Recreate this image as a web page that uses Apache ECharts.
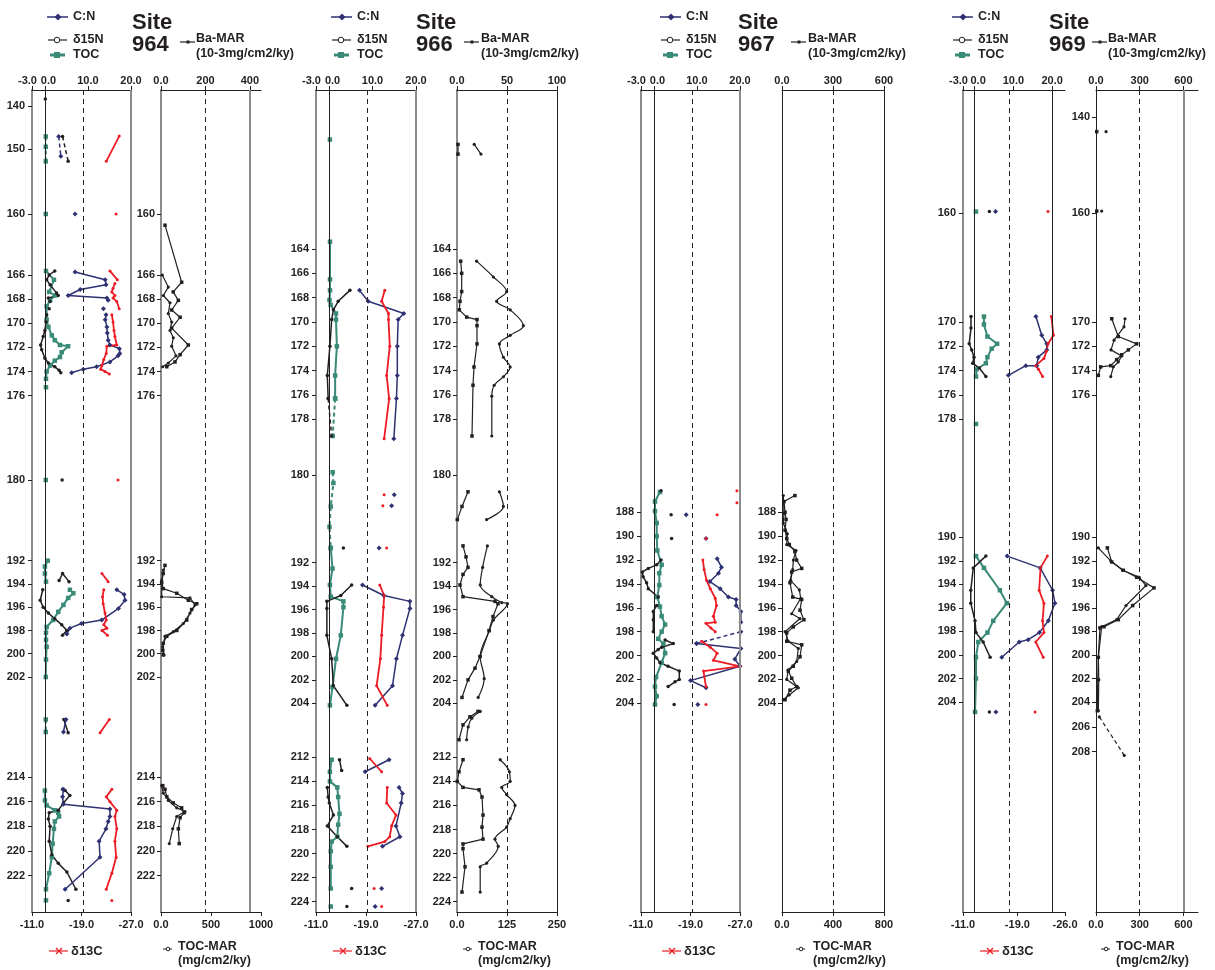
<!DOCTYPE html>
<html><head><meta charset="utf-8">
<script src="https://cdn.jsdelivr.net/npm/echarts@6.0.0/dist/echarts.min.js"></script>
<style>html,body{margin:0;padding:0;background:#fff}#c{width:1215px;height:970px}</style>
</head><body><div id="c"></div>
<script>
// ===== Age models (age ka -> depth units) =====
const ageTie964 = [140,150,160,166,176,180,192,202,214,222];
const depthTie964 = [1.6,5.9,12.4,18.5,30.57,39.0,47.07,58.7,68.7,78.57];
const ageTie966 = [164,178,180,192,204,212,224];
const depthTie966 = [15.9,32.93,38.5,47.27,61.33,66.73,81.17];
const ageTie967 = [188,204];
const depthTie967 = [42.23,61.33];
const ageTie969 = [140,160,170,178,190,204,208];
const depthTie969 = [2.73,12.3,23.2,32.9,44.73,61.2,66.17];

// ===== Age tick labels =====
const yTicks964L = [140,150,160,166,168,170,172,174,176,180,192,194,196,198,200,202,214,216,218,220,222];
const yTicks964R = [160,166,168,170,172,174,176,192,194,196,198,200,202,214,216,218,220,222];
const yTicks966 = [164,166,168,170,172,174,176,178,180,192,194,196,198,200,202,204,212,214,216,218,220,222,224];
const yTicks967 = [188,190,192,194,196,198,200,202,204];
const yTicks969L = [160,170,172,174,176,178,190,192,194,196,198,200,202,204];
const yTicks969R = [140,160,170,172,174,176,190,192,194,196,198,200,202,204,206,208];
const topLabelsL = [-3,0,10,20];
const botLabelsL = [-11,-19,-27];
const botLabelsL969 = [-11,-19,-26];
const topLabelsR964 = [0,200,400], botLabelsR964 = [0,500,1000];
const topLabelsR966 = [0,50,100],  botLabelsR966 = [0,125,250];
const topLabelsR967 = [0,300,600], botLabelsR967 = [0,400,800];
const topLabelsR969 = [0,300,600], botLabelsR969 = [0,300,600];

// ===== Site 964 data [value, age] (null = gap) =====
const toc964 = [[0.2,160.0],null,
 [0.25,165.6],[2.1,166.4],[1.0,167.4],[2.3,167.7],[1.2,168.1],[0.4,168.6],[0.4,169.7],[0.8,170.3],[1.6,171.0],[2.3,171.4],[3.5,171.8],[5.4,171.9],[3.9,172.4],[3.5,172.8],[2.3,173.1],[1.2,173.5],[0.4,174.0],[0.25,174.6],null,
 [0.25,175.3],null,[0.2,180.0],null,
 [0.65,192.0],[0.0,192.5],[0.0,193.1],[0.25,193.8],null,
 [5.8,194.5],[6.6,194.8],[5.4,195.2],[4.3,195.8],[3.1,196.4],[1.9,197.1],[0.4,197.7],[0.25,198.2],[0.25,198.8],[0.4,199.4],[0.25,200.5],[0.2,202.0],null,
 [0.0,215.1],[0.0,215.9],[0.4,216.3],[2.3,216.7],[3.1,216.9],[3.3,217.2],[2.3,217.6],[2.1,218.2],[1.8,219.4],[1.6,220.5],[1.0,221.8],[0.25,223.1],null,
 [0.25,224.0]];
const toc964Dash = [[0.2,147.1],[0.2,149.5],[0.2,151.9],null,[0.2,207.1],[0.2,208.6]];
const d15n964 = [[0.1,138.4],null,
 [2.3,165.6],[1.0,166.0],[0.4,166.4],[1.2,166.8],[2.7,167.5],[3.1,167.7],[0.8,167.9],[1.2,168.2],null,
 [1.0,168.8],null,
 [0.4,169.3],[0.25,169.9],[0.0,170.6],[-0.4,171.1],[-1.0,171.8],[-0.75,172.2],[0.0,172.9],[0.8,173.3],[2.3,173.6],[3.3,173.9],[3.7,174.1],null,
 [4.0,180.0],null,
 [3.3,193.7],[4.1,193.1],[5.6,193.8],null,
 [-0.5,194.5],[-1.1,195.4],[-0.4,196.0],[0.8,196.5],[2.3,197.0],[3.9,197.5],[5.1,198.0],[4.1,198.4],null,
 [4.4,207.1],[5.4,208.7],null,
 [4.1,215.0],[4.7,215.1],[5.8,215.5],[4.3,216.1],[3.1,216.7],[1.0,216.9],[0.8,217.4],[1.2,218.0],[1.0,219.2],[1.6,220.3],[3.1,221.0],[5.1,221.7],[7.2,223.1],null,
 [5.4,224.0]];
const d15n964Dash = [[4.1,147.1],[5.4,151.9]];
const cn964 = [[7.0,160.0],null,
 [7.0,165.7],[14.0,166.4],[14.2,166.8],[8.2,167.2],[5.4,167.7],[14.4,167.9],[14.7,168.1],null,
 [13.6,168.8],null,
 [14.2,169.3],[14.0,169.7],[14.4,170.3],[14.5,170.8],[14.7,171.4],[15.1,171.8],[17.3,172.1],[17.4,172.5],[17.0,172.7],[15.1,173.2],[12.0,173.6],[8.9,173.8],[6.2,174.1],null,
 [16.7,194.5],[18.4,194.9],[18.6,195.4],[17.1,196.1],[13.2,197.1],[8.5,197.4],[5.8,197.8],[5.1,198.3],null,
 [4.9,207.1],[4.3,208.6],null,
 [4.3,215.0],[4.1,215.6],[4.3,216.2],[15.1,216.6],[15.1,217.2],[14.7,217.6],[14.2,218.2],[12.6,219.2],[12.8,220.5],[4.7,223.1]];
const cn964Dash = [[3.2,147.1],[3.7,151.1]];
const d13c964 = [[-25.1,147.0],[-23.0,151.9],null,
 [-24.6,160.0],null,
 [-23.6,165.6],[-24.8,166.4],null,
 [-24.4,166.7],[-24.1,167.1],[-23.9,167.4],[-24.4,167.7],[-24.1,167.9],[-24.7,168.2],[-25.1,168.8],null,
 [-23.9,169.3],[-24.1,169.9],[-24.25,170.6],[-24.4,171.1],[-24.7,171.8],[-23.1,171.9],[-23.0,172.5],[-22.6,173.0],[-22.3,173.5],[-22.1,173.8],[-22.8,174.0],[-23.5,174.2],null,
 [-24.9,180.0],null,
 [-22.3,193.1],[-23.3,193.8],null,
 [-22.6,194.5],[-22.4,195.1],[-22.5,195.7],[-22.8,196.5],[-23.0,197.1],[-22.6,197.5],[-23.1,197.8],[-22.3,198.0],[-23.2,198.4],null,
 [-23.5,207.1],[-22.0,208.7],null,
 [-23.9,215.0],[-23.0,215.6],[-23.6,216.0],[-24.7,216.7],[-24.4,217.2],[-24.7,218.2],[-24.4,219.2],[-24.6,220.5],[-23.9,221.8],[-23.0,223.1],null,
 [-23.9,224.0]];
const ba964 = [[18,161.1],[93,166.6],[55,167.4],[78,168.1],[48,168.9],[86,169.5],[48,170.4],[123,171.8],[86,172.6],[63,173.2],[26,173.6],null,
 [18,192.4],[10,193.1],[3,193.9],[10,194.4],[71,194.8],[123,195.4],[161,195.7],[138,196.2],[116,197.1],[71,198.0],[26,198.5],[10,199.1],[8,199.7],[10,200.1],null,
 [8,214.7],[18,215.0],[26,215.6],[55,216.1],[93,216.5],[104,216.9],[86,217.3],[78,218.2],[82,219.4]];
const tocmar964 = [[13,166.0],[73,167.0],[23,167.7],[90,168.3],[73,169.2],[107,169.9],[90,170.6],[123,171.2],[107,171.9],[150,172.7],[73,173.3],[17,173.6],null,
 [23,192.8],[7,193.7],[7,195.1],[290,195.2],[340,195.8],[290,196.5],[223,197.4],[123,198.1],[40,198.5],[17,199.4],[30,200.1],null,
 [7,214.7],[23,215.3],[73,215.9],[157,216.5],[240,216.8],[157,217.2],[117,218.2],[83,219.4]];

// ===== Site 966 data =====
const toc966 = [[0.2,155.0],null,
 [0.22,163.4],[0.22,166.5],[0.22,167.4],[0.1,168.2],[0.38,168.6],[1.6,169.3],[1.6,169.8],[1.8,172.0],[1.4,174.4],[1.4,176.3],null,
 [0.4,190.0],[0.8,192.5],[0.2,193.9],[0.4,194.9],[3.3,195.3],[3.3,195.8],[2.7,198.2],[1.6,200.2],[0.8,202.6],[0.2,204.3],null,
 [0.6,212.2],[0.2,213.2],[0.2,214.0],[1.9,214.5],[2.1,215.3],[2.4,216.7],[2.1,217.6],[1.9,218.6],[0.6,219.0],[0.4,219.8],[0.4,221.1],[0.4,222.9],null,
 [0.4,224.4]];
const toc966Dash = [[1.4,176.3],[0.84,178.6],null,[0.84,179.9],[1.0,181.1],[0.4,184.3],[0.1,187.1],[0.4,190.0]];
const d15n966 = [[4.8,167.4],[2.1,168.3],[1.0,169.0],[0.6,169.8],[0.2,172.0],[-0.4,174.4],[-0.2,176.3],null,
 [3.3,190.0],null,
 [5.2,193.9],[2.7,194.8],[-0.5,195.3],[-0.5,195.9],[-0.5,198.2],[0.6,200.2],[1.0,202.5],[4.1,204.3],null,
 [2.4,212.2],[2.9,213.1],null,
 [-0.4,214.5],[-0.2,215.3],[0.06,215.8],[1.0,216.8],[-0.4,217.7],[1.9,218.6],[4.1,219.4],null,
 [5.2,222.9],null,[4.1,224.4]];
const d15n966Dash = [[-0.2,176.3],[0.6,178.6]];
const cn966 = [[7.0,167.4],[9.0,168.3],[17.2,169.3],[15.9,169.8],[15.7,172.0],[15.7,174.4],[15.5,176.3],[14.9,178.7],null,
 [15.0,182.7],null,[14.4,184.2],null,[11.5,190.0],null,
 [7.7,193.9],[12.6,194.8],[18.6,195.3],[18.6,195.9],[16.9,198.2],[15.5,200.2],[14.6,202.5],[10.6,204.3],null,
 [13.8,212.2],[8.3,213.2],null,
 [16.1,214.5],[16.9,215.0],[16.6,215.8],[15.4,217.7],[16.3,218.6],[12.3,219.4],null,
 [12.1,222.9],null,[10.6,224.4]];
const d13c966 = [[-22.0,167.4],[-21.5,168.3],[-22.6,169.3],[-22.6,169.8],[-22.8,172.0],[-22.3,174.4],[-22.7,176.3],[-21.9,178.7],null,
 [-21.9,182.7],null,[-21.7,184.2],null,[-22.3,190.0],null,
 [-21.2,193.9],[-21.9,194.8],[-21.8,195.8],[-21.5,198.2],[-21.3,200.2],[-20.7,202.5],[-22.4,204.3],null,
 [-19.6,212.1],[-21.5,213.2],null,
 [-22.4,214.5],[-22.3,215.8],[-23.8,216.8],[-23.1,217.7],[-22.8,218.6],[-22.0,219.0],[-19.3,219.4],null,
 [-20.3,222.9],null,[-21.5,224.4]];
const ba966 = [[1,155.4],[1,156.2],null,
 [3.7,165.0],[4.7,166.0],[4.7,167.5],[3,168.3],[2.3,169.0],[9.7,169.6],[20,169.8],[20,170.3],[20,171.8],[17,173.7],[16,175.2],[15,178.6],null,
 [11,182.3],[5,184.3],[0.3,186.1],null,
 [6,189.7],[9,191.2],[11,192.4],[6,193.0],[3,193.9],[6,194.9],[38,195.3],[41,195.5],[36,196.6],[32,197.8],[23,200.0],[18,201.0],[11,202.0],[5,203.5],null,
 [21,205.2],[13,206.0],[6,207.2],[2,209.4],null,
 [6,212.2],[2,213.2],[0.3,214.0],[6,214.5],[22,214.7],[25,215.3],[26,216.8],[25,217.8],[26,218.8],[6,219.2],[6,219.6],[8,221.1],[5,223.2]];
const tocmar966 = [[43,155.4],[60,156.2],null,
 [49,165.0],[91,166.3],[124,167.5],[99,168.3],[133,169.0],[166,170.3],[133,171.1],[106,171.8],[116,172.9],[133,173.7],[116,174.5],[93,175.2],[87,176.1],[87,178.6],null,
 [106,182.3],[116,184.3],[74,186.1],null,
 [76,189.7],[64,192.4],[58,193.9],[87,194.9],[112,195.4],[126,195.5],[91,196.9],[81,197.8],[58,200.0],[68,201.9],[53,203.5],null,
 [58,205.2],[37,206.2],[28,207.5],[24,209.4],null,
 [108,212.2],[131,213.2],[133,214.0],[112,214.5],[124,215.1],[145,216.0],[133,217.1],[124,217.8],[95,218.8],[103,219.4],[74,220.8],[58,221.1],[58,223.2]];

// ===== Site 967 data =====
const toc967 = [[1.4,186.3],[0.25,187.1],[0.25,187.9],[0.65,188.9],[0.65,190.0],[0.79,191.2],[1.8,192.4],[1.25,193.1],[1.25,194.1],[0.79,195.1],[1.4,195.9],[1.8,196.7],[2.6,197.4],[1.8,198.0],[1.0,198.6],[2.2,199.0],[2.6,199.8],[1.8,200.6],[0.5,201.8],[0.25,202.6],[0.65,203.4],[0.25,204.1]];
const d15n967 = [[1.65,186.2],null,[4.0,188.2],null,[4.1,190.2],null,
 [1.65,192.0],[0.65,192.4],[-1.3,192.7],[-2.7,193.0],[-2.5,193.4],[-1.7,193.9],[-1.3,194.4],[1.0,195.1],null,
 [0.65,195.8],[-0.14,196.3],[-0.14,197.0],[-0.14,198.0],null,
 [2.6,198.7],[4.5,199.0],[1.8,199.3],[1.0,199.5],[-0.14,199.8],[0.65,200.2],[1.4,200.6],[3.3,200.9],[5.9,201.3],[5.9,202.0],[4.9,202.2],[3.3,202.6],null,
 [4.7,204.1]];
const cn967 = [[7.5,188.2],null,[12.1,190.2],null,
 [14.7,191.9],[15.7,192.6],[15.0,193.1],[13.0,193.8],[15.4,194.4],[17.3,195.1],[19.1,195.3],[19.1,195.8],[20.2,196.3],[20.2,197.2],null,
 [9.9,199.0],[20.2,199.4],[18.8,200.3],[20.0,200.9],[8.5,202.1],[12.1,202.7],null,
 [10.2,204.1]];
const cn967Dash = [[20.2,198.0],[9.9,199.0]];
const d13c967 = [[-26.5,186.2],null,[-26.5,187.2],null,[-23.3,188.2],null,[-21.5,190.2],null,
 [-21.0,192.0],[-21.2,192.8],[-21.6,193.7],[-22.2,194.4],[-23.0,195.2],[-23.2,195.8],[-22.7,196.7],[-23.0,197.2],[-21.5,197.3],[-22.3,197.7],[-23.0,198.0],null,
 [-20.8,198.8],[-22.2,199.3],[-23.3,199.8],[-22.7,200.4],[-27.0,200.9],[-21.1,201.3],[-21.5,202.6],null,
 [-21.5,204.1]];
const ba967 = [[76,186.6],[12,187.1],[18,188.0],[24,188.6],[18,189.5],[28,190.2],[43,190.7],[76,191.3],[86,192.0],[116,192.7],[57,193.0],[47,193.9],[63,195.1],[116,195.3],[106,196.2],[129,197.0],[66,197.6],[28,198.1],[28,198.8],[116,199.1],[106,200.1],[66,200.9],[37,201.3],[57,201.9],[86,202.6],[47,202.9],[18,203.7]];
const tocmar967 = [[10,186.6],[16,188.1],[10,188.9],[42,189.8],[37,190.7],[110,191.2],[89,192.0],[84,192.8],[68,193.7],[136,194.5],[147,195.2],[76,196.5],[141,196.9],[24,198.0],[49,198.8],[128,199.4],[115,200.5],[49,201.2],[37,202.0],[128,202.7],[57,203.3],[10,203.7]];

// ===== Site 969 data =====
const toc969 = [[0.35,159.7],null,
 [2.4,169.5],[2.4,170.2],[3.3,171.2],[5.8,171.8],[4.4,172.2],[3.3,172.9],[2.9,173.4],[0.5,173.9],[0.35,174.5],null,
 [0.35,178.5],null,
 [0.35,191.6],[2.4,192.6],[6.5,194.5],[8.3,195.6],[4.8,197.1],[3.3,198.1],[0.94,198.9],[0.35,200.2],[0.35,202.0],[0.1,204.8]];
const d15n969 = [[3.8,159.7],null,
 [-0.94,169.5],[-0.94,170.5],[-1.4,171.8],[-0.76,172.3],[-0.16,172.9],[-0.5,173.4],[1.2,173.8],[2.9,174.5],null,
 [2.9,191.6],[-0.35,192.6],[-1.0,194.5],[-1.0,195.6],[0.1,197.1],[0.35,198.1],[2.2,198.9],[4.0,200.2],null,
 [3.8,204.8]];
const cn969 = [[5.4,159.7],null,
 [15.8,169.5],[17.3,171.1],[18.6,171.8],[18.6,172.3],[16.4,172.9],[16.0,173.6],[13.2,173.6],[8.7,174.4],null,
 [8.4,191.6],[16.9,192.6],[20.1,194.5],[20.7,195.6],[19.0,197.1],[16.7,198.1],[13.8,198.7],[11.5,198.9],[7.0,200.2],null,
 [5.5,204.8]];
const d13c969 = [[-23.5,159.7],null,
 [-24.0,169.5],[-24.3,171.1],[-23.5,171.8],[-23.3,172.4],[-22.9,173.0],[-21.7,173.6],[-22.1,173.9],[-22.7,174.5],null,
 [-23.4,191.6],[-22.4,192.6],[-22.2,194.5],[-22.9,195.6],[-22.7,197.1],[-22.9,198.1],[-21.7,198.9],[-22.8,200.2],null,
 [-21.6,204.8]];
const ba969 = [[5,143.0],null,[5,159.6],null,
 [108,169.7],[153,171.2],[279,171.8],[222,172.3],[176,172.7],[142,173.1],[101,173.6],[32,173.7],[16,174.4],null,
 [78,190.9],[108,192.1],[187,192.8],[279,193.4],[398,194.3],[252,195.8],[153,197.0],[55,197.6],[27,197.7],[16,200.2],[12,202.1],[9,204.7]];
const tocmar969 = [[69,143.0],null,[39,159.6],null,
 [199,169.7],[192,170.4],[124,171.5],[103,172.3],[176,172.8],[153,173.3],[119,173.7],[101,174.5],null,
 [16,190.9],[101,192.0],[183,192.8],[297,193.4],[343,194.1],[206,195.8],[142,197.0],[39,197.6],[16,200.2],[19,202.1],[16,204.7]];
const tocmar969Dash = [[23,205.2],[194,208.3]];

// ===== styling =====
const FONT = '"Liberation Sans", Arial, Helvetica, sans-serif';
const INK = '#231f20', NAVY = '#2e3172', TEAL = '#3a8a78', RED = '#ed1c24', GRAY = '#8c8c8c';
const DEPTH_MAX = 82.2, GTOP = 90, GH = 822;

function makeDepth(tA, tD) {
  return function (age) {
    const n = tA.length;
    let i = 0;
    if (age <= tA[0]) i = 0;
    else if (age >= tA[n - 1]) i = n - 2;
    else { while (age > tA[i + 1]) i++; }
    const t = (age - tA[i]) / (tA[i + 1] - tA[i]);
    return tD[i] + t * (tD[i + 1] - tD[i]);
  };
}
function toData(arr, dfn) { return arr.map(p => p ? [p[0], dfn(p[1])] : ['-', '-']); }

const sites = [
  { id:'964', L:[32,99], R:[161,100], topMaxL:20, botMinL:-27, botLab:botLabelsL,
    topMaxR:450, topLabR:topLabelsR964, botMaxR:1000, botLabR:botLabelsR964, refR:[200,400],
    ticksL:yTicks964L, ticksR:yTicks964R, dfn:makeDepth(ageTie964, depthTie964),
    cn:cn964, d15n:d15n964, toc:toc964, d13c:d13c964, ba:ba964, tm:tocmar964,
    cnD:cn964Dash, d15nD:d15n964Dash, tocD:toc964Dash, tmD:null,
    edgeL:GRAY, edgeR:GRAY, yLineR:GRAY, smoothTm:false,
    hdr:{dx:0, siteX:132, baMark:188, baText:196}, ftr:{d13c:71, tmMark:168, tmText:178} },
  { id:'966', L:[316,100], R:[457,100], topMaxL:20, botMinL:-27, botLab:botLabelsL,
    topMaxR:100, topLabR:topLabelsR966, botMaxR:250, botLabR:botLabelsR966, refR:[50,100],
    ticksL:yTicks966, ticksR:yTicks966, dfn:makeDepth(ageTie966, depthTie966),
    cn:cn966, d15n:d15n966, toc:toc966, d13c:d13c966, ba:ba966, tm:tocmar966,
    cnD:null, d15nD:d15n966Dash, tocD:toc966Dash, tmD:null,
    edgeL:GRAY, edgeR:INK, yLineR:GRAY, smoothTm:true,
    hdr:{dx:284, siteX:416, baMark:472, baText:481}, ftr:{d13c:355, tmMark:468, tmText:478} },
  { id:'967', L:[641,99], R:[782,102], topMaxL:20, botMinL:-27, botLab:botLabelsL,
    topMaxR:600, topLabR:topLabelsR967, botMaxR:800, botLabR:botLabelsR967, refR:[300,600],
    ticksL:yTicks967, ticksR:yTicks967, dfn:makeDepth(ageTie967, depthTie967),
    cn:cn967, d15n:d15n967, toc:toc967, d13c:d13c967, ba:ba967, tm:tocmar967,
    cnD:cn967Dash, d15nD:null, tocD:null, tmD:null,
    edgeL:GRAY, edgeR:INK, yLineR:INK, smoothTm:false,
    hdr:{dx:613, siteX:738, baMark:799, baText:808}, ftr:{d13c:684, tmMark:801, tmText:813} },
  { id:'969', L:[963,102], R:[1096,102], topMaxL:23.3, botMinL:-26, botLab:botLabelsL969,
    topMaxR:700, topLabR:topLabelsR969, botMaxR:700, botLabR:botLabelsR969, refR:[300,600],
    ticksL:yTicks969L, ticksR:yTicks969R, dfn:makeDepth(ageTie969, depthTie969),
    cn:cn969, d15n:d15n969, toc:toc969, d13c:d13c969, ba:ba969, tm:tocmar969,
    cnD:null, d15nD:null, tocD:null, tmD:tocmar969Dash,
    edgeL:INK, edgeR:GRAY, yLineR:INK, smoothTm:false,
    hdr:{dx:905, siteX:1049, baMark:1100, baText:1108}, ftr:{d13c:1002, tmMark:1106, tmText:1116} }
];

const labelFont = { fontFamily: FONT, fontWeight: 'bold', fontSize: 11, color: INK };
const RICH = { l: Object.assign({ padding: [0, 9, 0, 0] }, labelFont), r: Object.assign({ padding: [0, 0, 0, 7] }, labelFont) };

function xAx(grid, pos, min, max, labels, fmt, inverse) {
  return { type:'value', gridIndex:grid, position:pos, min:min, max:max, inverse:!!inverse,
    axisLine:{show:true, onZero:false, lineStyle:{color:INK, width:1}},
    axisTick:{show:true, inside:false, length:4, customValues:labels, lineStyle:{color:INK, width:1}},
    axisLabel:Object.assign({show:true, customValues:labels, formatter:fmt, margin: pos === 'top' ? 4 : 7, rich:RICH}, labelFont),
    splitLine:{show:false}, splitArea:{show:false} };
}
function yAx(grid, ticks, dfn, lineColor, lineWidth, margin) {
  const vals = ticks.map(dfn);
  return { type:'value', gridIndex:grid, inverse:true, min:0, max:DEPTH_MAX,
    axisLine:{show:true, onZero:false, lineStyle:{color:lineColor, width:lineWidth}},
    axisTick:{show:true, inside:false, length:4, customValues:vals, lineStyle:{color:INK}},
    axisLabel:Object.assign({show:true, customValues:vals, margin:margin,
      formatter:function (v) { let best = '', bd = 1e9; vals.forEach((d, i) => { const dd = Math.abs(d - v); if (dd < bd) { bd = dd; best = String(ticks[i]); } }); return best; }}, labelFont),
    splitLine:{show:false}, splitArea:{show:false} };
}
const fmtLeftTop = v => v === -3 ? '{l|-3.0}' : (v === 0 ? '{r|0.0}' : v.toFixed(1));
const fmtFixed = v => v.toFixed(1);
const fmtRight = v => v === 0 ? '0.0' : String(v);

function lineS(name, arr, dfn, xi, yi, color, sym, size, width, dashed, smooth, markLine) {
  const s = { name:name, type:'line', xAxisIndex:xi, yAxisIndex:yi, data:toData(arr, dfn),
    symbol:sym, symbolSize:size, showSymbol:true, showAllSymbol:true, connectNulls:false, smooth:smooth ? 0.35 : false,
    lineStyle:{color:color, width:width, type:dashed ? [4, 3] : 'solid'},
    itemStyle:{color:color, borderColor:color, borderWidth:sym === 'emptyCircle' ? 1 : 0},
    emphasis:{disabled:true}, animation:false, silent:true, clip:false };
  if (markLine) s.markLine = markLine;
  return s;
}
function refLines(items) {
  return { silent:true, symbol:['none','none'], label:{show:false}, animation:false, emphasis:{disabled:true},
    data: items.map(it => ({ xAxis: it[0], lineStyle: { color: it[1], width: it[2], type: it[3] } })) };
}

const option = { animation:false, backgroundColor:'#ffffff', grid:[], xAxis:[], yAxis:[], series:[], graphic:{elements:[]} };

function txt(x, y, text, size, extra) {
  return Object.assign({ type:'text', x:x, y:y, silent:true, style:{ text:text, fill:INK, font:'bold ' + size + 'px ' + FONT,
    fontFamily:FONT, fontWeight:'bold', fontSize:size, align:'left', verticalAlign:'middle', textAlign:'left', textVerticalAlign:'middle' } }, extra || {});
}
function ln(x1, y1, x2, y2, color, w) { return { type:'line', silent:true, shape:{x1:x1, y1:y1, x2:x2, y2:y2}, style:{stroke:color, lineWidth:w} }; }

sites.forEach((s, k) => {
  const gL = 2 * k, gR = 2 * k + 1;
  option.grid.push({ left:s.L[0], width:s.L[1], top:GTOP, height:GH, outerBoundsMode:'none', containLabel:false });
  option.grid.push({ left:s.R[0], width:s.R[1], top:GTOP, height:GH, outerBoundsMode:'none', containLabel:false });
  const xLT = 4 * k, xLB = 4 * k + 1, xRT = 4 * k + 2, xRB = 4 * k + 3;
  option.xAxis.push(xAx(gL, 'top', -3, s.topMaxL, topLabelsL, fmtLeftTop, false));
  option.xAxis.push(xAx(gL, 'bottom', s.botMinL, -11, s.botLab, fmtFixed, true));
  option.xAxis.push(xAx(gR, 'top', 0, s.topMaxR, s.topLabR, fmtRight, false));
  option.xAxis.push(xAx(gR, 'bottom', 0, s.botMaxR, s.botLabR, fmtRight, false));
  option.yAxis.push(yAx(gL, s.ticksL, s.dfn, GRAY, 2, 7));
  option.yAxis.push(yAx(gR, s.ticksR, s.dfn, s.yLineR, s.yLineR === GRAY ? 2 : 1, 6));
  const d = s.dfn;
  const mlL = refLines([[0, INK, 1, 'solid'], [8.9, INK, 1, [5, 4]], [20, s.edgeL, s.edgeL === GRAY ? 2 : 1, 'solid']]);
  const mlR = refLines([[s.refR[0], INK, 1, [5, 4]], [s.refR[1], s.edgeR, s.edgeR === GRAY ? 2 : 1, 'solid']]);
  // left panel
  option.series.push(lineS('TOC', s.toc, d, xLT, gL, TEAL, 'rect', 4.5, 2, false, false, mlL));
  if (s.tocD) option.series.push(lineS('TOC', s.tocD, d, xLT, gL, TEAL, 'rect', 4.5, 2, true));
  option.series.push(lineS('δ15N', s.d15n, d, xLT, gL, INK, 'circle', 3.5, 1.5, false));
  if (s.d15nD) option.series.push(lineS('δ15N', s.d15nD, d, xLT, gL, INK, 'circle', 3.5, 1.5, true));
  option.series.push(lineS('C:N', s.cn, d, xLT, gL, NAVY, 'diamond', 5, 1.5, false));
  if (s.cnD) option.series.push(lineS('C:N', s.cnD, d, xLT, gL, NAVY, 'diamond', 5, 1.5, true));
  option.series.push(lineS('δ13C', s.d13c, d, xLB, gL, RED, 'circle', 3, 1.8, false));
  // right panel
  option.series.push(lineS('Ba-MAR', s.ba, d, xRT, gR, INK, 'rect', 3.5, 1.2, false, false, mlR));
  option.series.push(lineS('TOC-MAR', s.tm, d, xRB, gR, INK, 'circle', 3.2, 1.2, false, s.smoothTm));
  if (s.tmD) option.series.push(lineS('TOC-MAR', s.tmD, d, xRB, gR, INK, 'circle', 3.2, 1.2, true));

  // header legend
  const h = s.hdr, dx = h.dx, E = option.graphic.elements;
  E.push(ln(47 + dx, 17, 68 + dx, 17, NAVY, 1.5));
  E.push({ type:'polygon', silent:true, shape:{points:[[58 + dx, 13.5], [61.5 + dx, 17], [58 + dx, 20.5], [54.5 + dx, 17]]}, style:{fill:NAVY} });
  E.push(txt(73 + dx, 17, 'C:N', 12.5));
  E.push(ln(48 + dx, 40, 67 + dx, 40, INK, 1.2));
  E.push({ type:'circle', silent:true, shape:{cx:57 + dx, cy:40, r:2.8}, style:{fill:'#fff', stroke:INK, lineWidth:1} });
  E.push(txt(73 + dx, 40, 'δ15N', 12.5));
  E.push(ln(50 + dx, 55, 65 + dx, 55, TEAL, 3));
  E.push({ type:'rect', silent:true, shape:{x:54 + dx, y:52, width:6, height:6}, style:{fill:TEAL} });
  E.push(txt(73 + dx, 55, 'TOC', 12.5));
  E.push(txt(h.siteX, 23, 'Site', 22));
  E.push(txt(h.siteX, 45, s.id, 22));
  E.push(ln(h.baMark - 8, 42, h.baMark + 7, 42, INK, 1.2));
  E.push({ type:'rect', silent:true, shape:{x:h.baMark - 1.5, y:40.5, width:3, height:3}, style:{fill:INK} });
  E.push(txt(h.baText, 39, 'Ba-MAR', 12.5));
  E.push(txt(h.baText, 53.5, '(10-3mg/cm2/ky)', 12.5));
  // footer legend
  const f = s.ftr;
  E.push(ln(f.d13c - 22, 951, f.d13c - 3, 951, RED, 1.2));
  E.push(ln(f.d13c - 15, 948, f.d13c - 9, 954, RED, 1.2));
  E.push(ln(f.d13c - 15, 954, f.d13c - 9, 948, RED, 1.2));
  E.push(txt(f.d13c, 951, 'δ13C', 13));
  E.push(ln(f.tmMark - 5, 949, f.tmMark + 4, 949, INK, 1));
  E.push({ type:'circle', silent:true, shape:{cx:f.tmMark, cy:949, r:1.8}, style:{fill:'#fff', stroke:INK, lineWidth:1} });
  E.push(txt(f.tmText, 947, 'TOC-MAR', 12.5));
  E.push(txt(f.tmText, 960.5, '(mg/cm2/ky)', 12.5));
});

const chart = echarts.init(document.getElementById('c'), null, { renderer:'canvas', width:1215, height:970 });
chart.setOption(option);
</script></body></html>
